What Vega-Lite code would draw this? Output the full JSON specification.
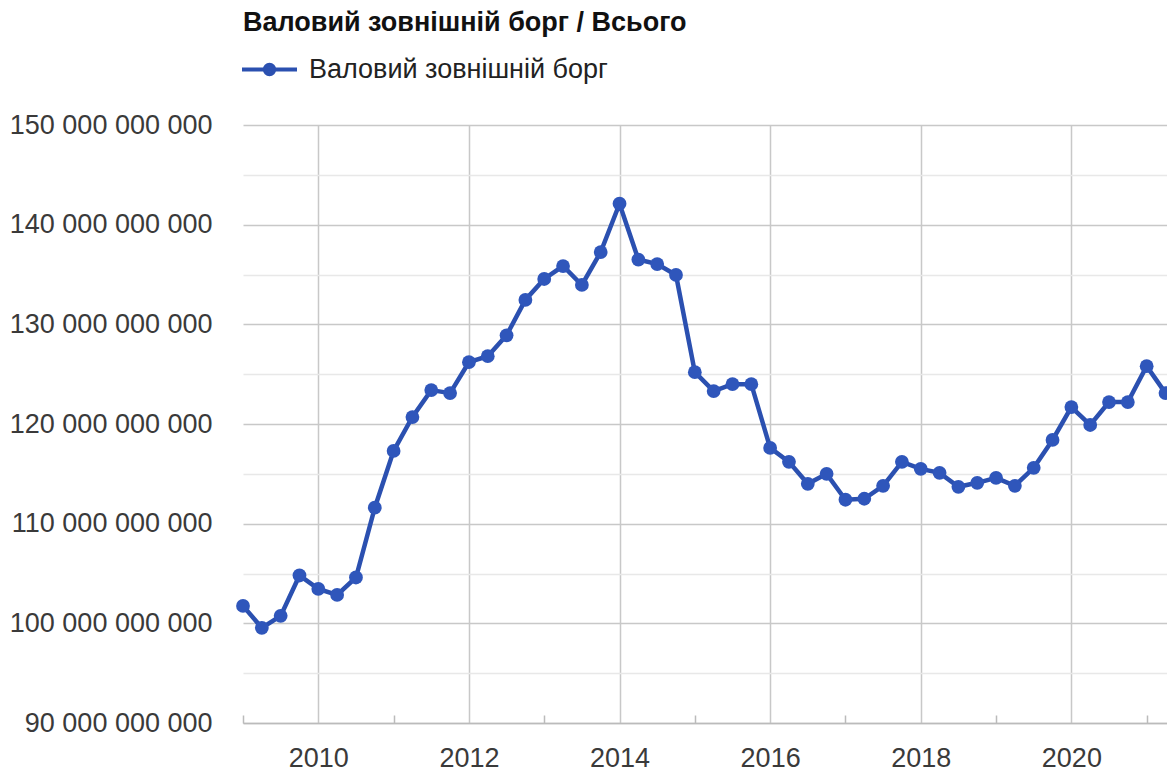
{
  "$schema": "https://vega.github.io/schema/vega-lite/v6.json",
  "autosize": {"type": "none"},
  "width": 924,
  "height": 598,
  "padding": {"left": 243, "top": 125, "right": 0, "bottom": 50},
  "background": "white",
  "config": {
    "locale": {"number": {"decimal": ".", "thousands": " ", "grouping": [3], "currency": ["", ""]}},
    "font": "Liberation Sans",
    "view": {"stroke": null}
  },
  "title": {
    "text": "Валовий зовнішній борг / Всього",
    "anchor": "start",
    "frame": "group",
    "fontSize": 27,
    "fontWeight": "bold",
    "font": "Liberation Sans",
    "color": "#111111",
    "offset": 6,
    "dy": 24,
    "limit": 0,
    "baseline": "alphabetic"
  },
  "data": {
    "values": [
      {"quarter": 2009.00, "debt": 101750000000, "series": "Валовий зовнішній борг"},
      {"quarter": 2009.25, "debt": 99550000000, "series": "Валовий зовнішній борг"},
      {"quarter": 2009.50, "debt": 100750000000, "series": "Валовий зовнішній борг"},
      {"quarter": 2009.75, "debt": 104800000000, "series": "Валовий зовнішній борг"},
      {"quarter": 2010.00, "debt": 103450000000, "series": "Валовий зовнішній борг"},
      {"quarter": 2010.25, "debt": 102850000000, "series": "Валовий зовнішній борг"},
      {"quarter": 2010.50, "debt": 104600000000, "series": "Валовий зовнішній борг"},
      {"quarter": 2010.75, "debt": 111600000000, "series": "Валовий зовнішній борг"},
      {"quarter": 2011.00, "debt": 117300000000, "series": "Валовий зовнішній борг"},
      {"quarter": 2011.25, "debt": 120700000000, "series": "Валовий зовнішній борг"},
      {"quarter": 2011.50, "debt": 123400000000, "series": "Валовий зовнішній борг"},
      {"quarter": 2011.75, "debt": 123100000000, "series": "Валовий зовнішній борг"},
      {"quarter": 2012.00, "debt": 126200000000, "series": "Валовий зовнішній борг"},
      {"quarter": 2012.25, "debt": 126800000000, "series": "Валовий зовнішній борг"},
      {"quarter": 2012.50, "debt": 128900000000, "series": "Валовий зовнішній борг"},
      {"quarter": 2012.75, "debt": 132450000000, "series": "Валовий зовнішній борг"},
      {"quarter": 2013.00, "debt": 134550000000, "series": "Валовий зовнішній борг"},
      {"quarter": 2013.25, "debt": 135850000000, "series": "Валовий зовнішній борг"},
      {"quarter": 2013.50, "debt": 133950000000, "series": "Валовий зовнішній борг"},
      {"quarter": 2013.75, "debt": 137250000000, "series": "Валовий зовнішній борг"},
      {"quarter": 2014.00, "debt": 142100000000, "series": "Валовий зовнішній борг"},
      {"quarter": 2014.25, "debt": 136500000000, "series": "Валовий зовнішній борг"},
      {"quarter": 2014.50, "debt": 136050000000, "series": "Валовий зовнішній борг"},
      {"quarter": 2014.75, "debt": 134950000000, "series": "Валовий зовнішній борг"},
      {"quarter": 2015.00, "debt": 125200000000, "series": "Валовий зовнішній борг"},
      {"quarter": 2015.25, "debt": 123300000000, "series": "Валовий зовнішній борг"},
      {"quarter": 2015.50, "debt": 124000000000, "series": "Валовий зовнішній борг"},
      {"quarter": 2015.75, "debt": 124000000000, "series": "Валовий зовнішній борг"},
      {"quarter": 2016.00, "debt": 117600000000, "series": "Валовий зовнішній борг"},
      {"quarter": 2016.25, "debt": 116200000000, "series": "Валовий зовнішній борг"},
      {"quarter": 2016.50, "debt": 114000000000, "series": "Валовий зовнішній борг"},
      {"quarter": 2016.75, "debt": 115000000000, "series": "Валовий зовнішній борг"},
      {"quarter": 2017.00, "debt": 112400000000, "series": "Валовий зовнішній борг"},
      {"quarter": 2017.25, "debt": 112500000000, "series": "Валовий зовнішній борг"},
      {"quarter": 2017.50, "debt": 113800000000, "series": "Валовий зовнішній борг"},
      {"quarter": 2017.75, "debt": 116200000000, "series": "Валовий зовнішній борг"},
      {"quarter": 2018.00, "debt": 115500000000, "series": "Валовий зовнішній борг"},
      {"quarter": 2018.25, "debt": 115100000000, "series": "Валовий зовнішній борг"},
      {"quarter": 2018.50, "debt": 113700000000, "series": "Валовий зовнішній борг"},
      {"quarter": 2018.75, "debt": 114100000000, "series": "Валовий зовнішній борг"},
      {"quarter": 2019.00, "debt": 114600000000, "series": "Валовий зовнішній борг"},
      {"quarter": 2019.25, "debt": 113800000000, "series": "Валовий зовнішній борг"},
      {"quarter": 2019.50, "debt": 115600000000, "series": "Валовий зовнішній борг"},
      {"quarter": 2019.75, "debt": 118400000000, "series": "Валовий зовнішній борг"},
      {"quarter": 2020.00, "debt": 121700000000, "series": "Валовий зовнішній борг"},
      {"quarter": 2020.25, "debt": 119900000000, "series": "Валовий зовнішній борг"},
      {"quarter": 2020.50, "debt": 122200000000, "series": "Валовий зовнішній борг"},
      {"quarter": 2020.75, "debt": 122200000000, "series": "Валовий зовнішній борг"},
      {"quarter": 2021.00, "debt": 125800000000, "series": "Валовий зовнішній борг"},
      {"quarter": 2021.25, "debt": 123100000000, "series": "Валовий зовнішній борг"}
    ]
  },
  "encoding": {
    "x": {
      "field": "quarter",
      "type": "quantitative",
      "title": null,
      "scale": {"domain": [2009, 2021.27], "nice": false, "zero": false},
      "axis": {
        "values": [2009, 2010, 2011, 2012, 2013, 2014, 2015, 2016, 2017, 2018, 2019, 2020, 2021],
        "format": "d",
        "labelExpr": "datum.value % 2 === 0 ? datum.label : ''",
        "grid": true,
        "gridColor": {"condition": {"test": "datum.value % 2 === 0", "value": "#c8c8c8"}, "value": "transparent"},
        "gridWidth": 1.5,
        "domain": true,
        "domainColor": "#bbbbbb",
        "domainWidth": 1.5,
        "ticks": true,
        "tickSize": -8,
        "tickWidth": 1.5,
        "tickColor": {"condition": {"test": "datum.value % 2 === 1", "value": "#bbbbbb"}, "value": "transparent"},
        "labelPadding": 30,
        "labelFontSize": 27,
        "labelFont": "Liberation Sans",
        "labelColor": "#3a3a3a",
        "labelLimit": 0,
        "labelFlush": false,
        "labelOverlap": false
      }
    },
    "y": {
      "field": "debt",
      "type": "quantitative",
      "title": null,
      "scale": {"domain": [90000000000, 150000000000], "nice": false, "zero": false},
      "axis": {
        "values": [90000000000, 95000000000, 100000000000, 105000000000, 110000000000, 115000000000, 120000000000, 125000000000, 130000000000, 135000000000, 140000000000, 145000000000, 150000000000],
        "format": ",d",
        "labelExpr": "datum.value % 10000000000 === 0 ? datum.label : ''",
        "domain": false,
        "ticks": false,
        "labelPadding": 31,
        "labelFontSize": 27,
        "labelFont": "Liberation Sans",
        "labelColor": "#3a3a3a",
        "labelLimit": 0,
        "labelOverlap": false,
        "grid": true,
        "gridWidth": 1.5,
        "gridColor": {"condition": {"test": "datum.value % 10000000000 === 0", "value": "#c8c8c8"}, "value": "#e8e8e8"}
      }
    }
  },
  "layer": [
    {"mark": {"type": "line", "color": "#2b50b0", "strokeWidth": 4.5}},
    {
      "mark": {"type": "point", "filled": true, "size": 190, "opacity": 1},
      "encoding": {
        "color": {
          "field": "series",
          "type": "nominal",
          "scale": {"range": ["#2f56bb"]},
          "legend": {
            "title": null,
            "orient": "none",
            "legendX": -3,
            "legendY": -85,
            "padding": 0,
            "symbolType": "M-1,0H1M-0.17,0A0.17,0.17,0,1,1,0.17,0A0.17,0.17,0,1,1,-0.17,0Z",
            "symbolSize": 3025,
            "symbolStrokeWidth": 4,
            "symbolOpacity": 1,
            "labelFontSize": 27,
            "labelFont": "Liberation Sans",
            "labelColor": "#222222",
            "labelOffset": 10,
            "labelLimit": 0,
            "encode": {
              "symbols": {
                "update": {
                  "stroke": {"value": "#2b50b0"},
                  "fill": {"value": "#2f56bb"},
                  "strokeWidth": {"value": 4}
                }
              }
            }
          }
        }
      }
    }
  ]
}
